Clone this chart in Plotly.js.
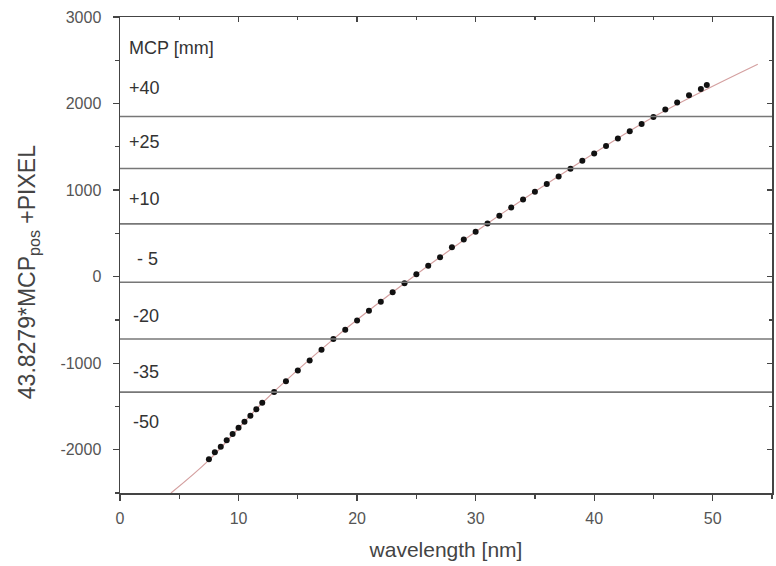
<!DOCTYPE html>
<html>
<head>
<meta charset="utf-8">
<script src="https://cdn.plot.ly/plotly-3.0.1.min.js"></script>
<style>html,body{margin:0;padding:0;background:#fff;}#chart{width:776px;height:566px;}</style>
</head>
<body>
<div id="chart"></div>
<script>
// measured points
const wavelength = [7.5,8,8.5,9,9.5,10,10.5,11,11.5,12,13,14,15,16,17,18,19,20,21,22,23,24,25,26,27,28,29,30,31,32,33,34,35,36,37,38,39,40,41,42,43,44,45,46,47,48,49,49.5];
const position = [-2111,-2030,-1965,-1891,-1818,-1745,-1676,-1606,-1532,-1456,-1332,-1208,-1085,-969,-845,-722,-614,-506,-394,-290,-181,-77,27,127,224,339,428,518,614,703,799,892,981,1069,1158,1247,1340,1424,1509,1595,1679,1764,1845,1930,2012,2096,2169,2215];
// fit curve
const fitX = [4.3,7.5,12,18,24,31,38,45,53.8];
const fitY = [-2500,-2120,-1460,-722,-77,614,1250,1845,2455];
// MCP boundaries
const boundaries = [1850,1250,610,-65,-720,-1335];
const mcpLabels = ["MCP [mm]","+40","+25","+10","- 5","-20","-35","-50"];
const labelX = [0.62,0.62,0.62,0.62,1.28,0.9,0.9,0.9];
const labelY = [2640,2177,1552,892,208,-452,-1100,-1679];
// ticks
const xTicks = [0,10,20,30,40,50];
const xTickText = ["0","10","20","30","40","50"];
const xMinor = [5,15,25,35,45,55];
const yTicks = [-2000,-1000,0,1000,2000,3000];
const yTickText = ["-2000","-1000","0","1000","2000","3000"];
const yMinor = [-2500,-1500,-500,500,1500,2500];
const xTitle = 'wavelength [nm]';
const yTitle = '43.8279*MCP<sub>pos</sub> +PIXEL';

const font = "Liberation Sans, Arial, sans-serif";
const traces = [
  {x: fitX, y: fitY, mode: 'lines', line: {color: '#d4a0a0', width: 1.2, shape: 'spline'}, hoverinfo: 'skip', showlegend: false},
  {x: wavelength, y: position, mode: 'markers', marker: {color: '#111', size: 6}, showlegend: false},
  {x: [0], y: [0], xaxis: 'x2', yaxis: 'y2', mode: 'markers', marker: {opacity: 0}, showlegend: false, hoverinfo: 'skip'}
];
const shapes = boundaries.map(v => ({type: 'line', xref: 'paper', x0: 0, x1: 1, yref: 'y', y0: v, y1: v, line: {color: '#777', width: 1.6}}));
const annotations = mcpLabels.map((t, i) => ({text: t, x: labelX[i], y: labelY[i], xref: 'x', yref: 'y', xanchor: 'left', yanchor: 'middle', showarrow: false, font: {family: font, size: 18, color: '#333'}}));
annotations.push({text: yTitle, textangle: -90, xref: 'paper', yref: 'paper', x: -0.141, y: 0.464, xanchor: 'center', yanchor: 'middle', showarrow: false, font: {family: font, size: 23, color: '#444'}});

const axCommon = {showgrid: false, zeroline: false, linecolor: '#444', linewidth: 1.5, tickcolor: '#444', tickwidth: 1.3, ticklen: 6, tickfont: {family: font, size: 16, color: '#555'}};
const layout = {
  width: 776, height: 566,
  margin: {l: 120, r: 4, t: 17, b: 73},
  paper_bgcolor: '#fff', plot_bgcolor: '#fff',
  showlegend: false,
  xaxis: Object.assign({}, axCommon, {range: [0, 55], tickmode: 'array', tickvals: xTicks, ticktext: xTickText, ticks: 'outside', mirror: true, ticklabelstandoff: 4,
    minor: {tickvals: xMinor, ticks: 'outside', ticklen: 4, tickcolor: '#444'},
    title: {text: xTitle, font: {family: font, size: 21, color: '#444'}, standoff: 16}}),
  yaxis: Object.assign({}, axCommon, {range: [-2500, 3000], tickmode: 'array', tickvals: yTicks, ticktext: yTickText, ticks: 'outside', mirror: true, ticklabelstandoff: 8,
    minor: {tickvals: yMinor, ticks: 'outside', ticklen: 4, tickcolor: '#444'}}),
  xaxis2: {overlaying: 'x', side: 'top', range: [0, 55], showgrid: false, zeroline: false, showticklabels: false, showline: false,
    tickmode: 'array', tickvals: xTicks, ticks: 'inside', ticklen: 5, tickcolor: '#444', tickwidth: 1.3,
    minor: {tickvals: xMinor, ticks: 'inside', ticklen: 3, tickcolor: '#444'}},
  yaxis2: {overlaying: 'y', side: 'right', range: [-2500, 3000], showgrid: false, zeroline: false, showticklabels: false, showline: false,
    tickmode: 'array', tickvals: yTicks, ticks: 'inside', ticklen: 5, tickcolor: '#444', tickwidth: 1.3,
    minor: {tickvals: yMinor, ticks: 'inside', ticklen: 3, tickcolor: '#444'}},
  shapes: shapes,
  annotations: annotations
};
Plotly.newPlot('chart', traces, layout, {displayModeBar: false, staticPlot: true});
</script>
</body>
</html>
